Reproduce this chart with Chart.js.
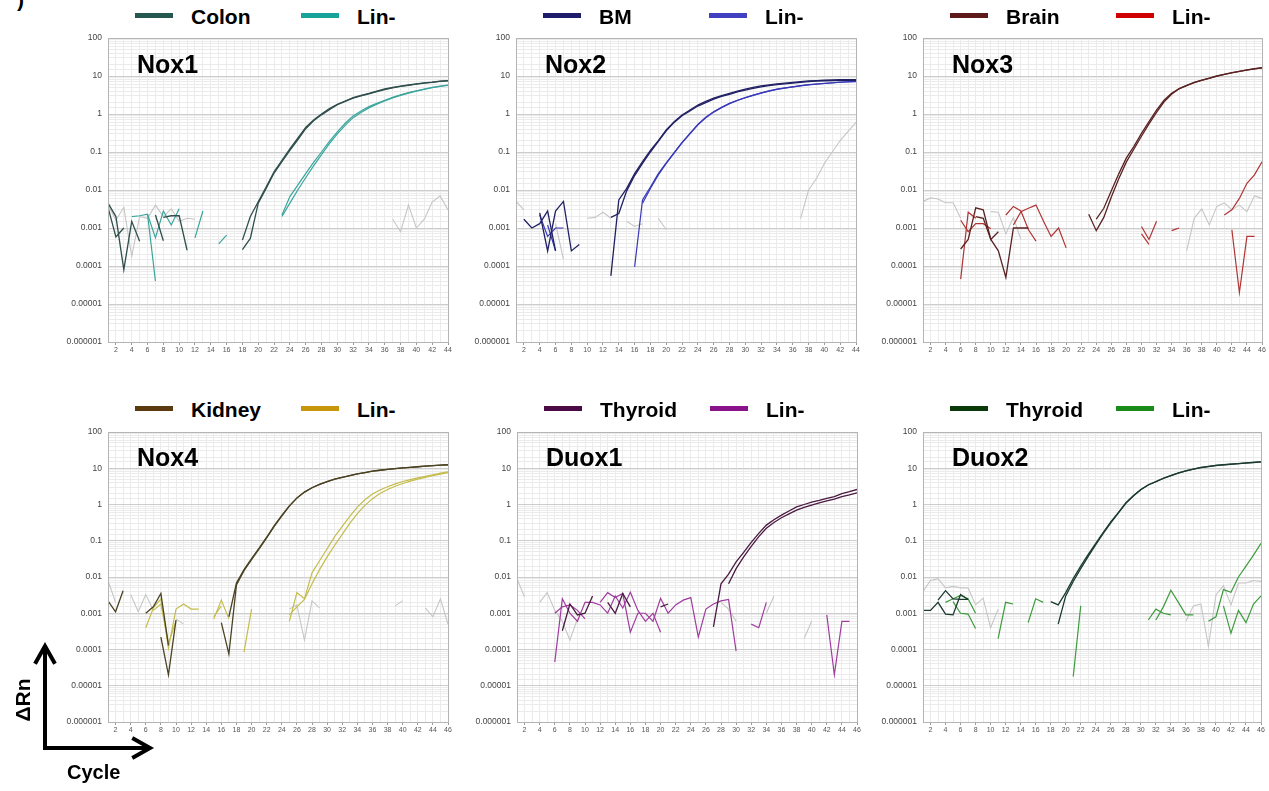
<!DOCTYPE html>
<html>
<head>
<meta charset="utf-8">
<script src="https://cdn.jsdelivr.net/npm/chart.js@4.4.1/dist/chart.umd.min.js"></script>
<style>
  body { margin: 0; background: #fff; font-family: "Liberation Sans", Arial, sans-serif; }
  #page { position: relative; width: 1269px; height: 791px; overflow: hidden; }
  .box { position: absolute; }
  .title { position: absolute; font-weight: bold; font-size: 25px; line-height: 25px; color: #000; white-space: nowrap; }
  .leg { position: absolute; font-weight: bold; font-size: 21px; line-height: 21px; color: #000; white-space: nowrap; }
  .sw { position: absolute; height: 5px; width: 38px; }
</style>
</head>
<body>
<div id="page"></div>
<script>
// x axis: PCR cycle, y axis: delta Rn (log)
const maxCycles = [44, 44, 46, 46, 46, 46];
const panelTitles = ['Nox1', 'Nox2', 'Nox3', 'Nox4', 'Duox1', 'Duox2'];
const tissueNames = ['Colon', 'BM', 'Brain', 'Kidney', 'Thyroid', 'Thyroid'];
const linName = 'Lin-';
const yTickLabels = ['100', '10', '1', '0.1', '0.01', '0.001', '0.0001', '0.00001', '0.000001'];

// each series = list of segments: [startCycle, value, value, ...]
const nox1ColonA = [[1, 0.0045, 0.002, 0.00008, 0.0015, 0.00045], [7, 0.0022, 0.00046],
  [18, 0.00048, 0.002, 0.0049, 0.012, 0.03, 0.06, 0.12, 0.23, 0.44, 0.7, 1.0, 1.4, 1.8, 2.2, 2.7, 3.1, 3.5, 4.0, 4.6, 5.0, 5.4, 5.8, 6.2, 6.6, 6.9, 7.3, 7.6]];
const nox1ColonB = [[1, 0.0035, 0.00058, 0.001], [8, 0.0019, 0.0021, 0.0021, 0.00026],
  [18, 0.00027, 0.00053, 0.0045, 0.011, 0.028, 0.056, 0.11, 0.21, 0.41, 0.66, 0.95, 1.3, 1.75, 2.15, 2.6, 3.0, 3.4, 3.9, 4.4, 4.9, 5.3, 5.7, 6.1, 6.5, 6.8, 7.2, 7.5]];
const nox1LinA = [[4, 0.002, 0.0021, 0.0023, 0.00004], [12, 0.00055, 0.0028], [15, 0.00038, 0.00065],
  [23, 0.0022, 0.0067, 0.0135, 0.027, 0.053, 0.1, 0.19, 0.34, 0.57, 0.89, 1.2, 1.56, 1.9, 2.3, 2.75, 3.2, 3.65, 4.1, 4.55, 5.0, 5.4, 5.8]];
const nox1LinB = [[6, 0.0023, 0.00055, 0.0028, 0.0012, 0.0032],
  [23, 0.002, 0.0045, 0.01, 0.021, 0.043, 0.085, 0.165, 0.3, 0.5, 0.8, 1.1, 1.45, 1.8, 2.2, 2.65, 3.1, 3.55, 4.0, 4.45, 4.9, 5.3, 5.7]];
const nox1Ntc = [[1, 0.004, 0.0016, 0.0035, 0.00018, 0.002, 0.0018, 0.004, 0.002, 0.0032, 0.0015, 0.0018, 0.0017],
  [37, 0.0017, 0.0008, 0.004, 0.001, 0.0017, 0.0048, 0.007, 0.003]];

const nox2BmA = [[2, 0.0017, 0.001, 0.0013, 0.0028, 0.00025],
  [13, 0.000055, 0.0055, 0.011, 0.027, 0.056, 0.11, 0.2, 0.38, 0.63, 0.94, 1.27, 1.72, 2.15, 2.6, 3.05, 3.5, 4.0, 4.5, 5.0, 5.5, 5.85, 6.2, 6.5, 6.8, 7.1, 7.4, 7.6, 7.8, 7.9, 8.0, 8.0, 8.0]];
const nox2BmB = [[4, 0.0025, 0.00025, 0.0028, 0.005, 0.00025, 0.00037],
  [13, 0.0019, 0.0024, 0.0095, 0.024, 0.05, 0.1, 0.19, 0.36, 0.6, 0.9, 1.2, 1.62, 2.0, 2.45, 2.9, 3.3, 3.8, 4.25, 4.7, 5.2, 5.55, 5.9, 6.2, 6.5, 6.8, 7.1, 7.3, 7.5, 7.6, 7.7, 7.7, 7.7]];
const nox2LinA = [[4, 0.0022, 0.0006, 0.001, 0.001],
  [16, 0.000095, 0.0055, 0.012, 0.027, 0.052, 0.096, 0.18, 0.31, 0.53, 0.82, 1.15, 1.5, 1.9, 2.3, 2.7, 3.15, 3.6, 4.05, 4.5, 4.85, 5.2, 5.55, 5.9, 6.15, 6.4, 6.65, 6.9, 7.05, 7.2]];
const nox2LinB = [[5, 0.0012, 0.00025],
  [17, 0.0045, 0.011, 0.025, 0.05, 0.093, 0.175, 0.3, 0.52, 0.8, 1.12, 1.47, 1.87, 2.27, 2.67, 3.1, 3.55, 4.0, 4.45, 4.8, 5.15, 5.5, 5.85, 6.1, 6.35, 6.6, 6.85, 7.0, 7.15]];
const nox2Ntc = [[1, 0.005, 0.003], [6, 0.0013, 0.00015], [10, 0.0018, 0.0019, 0.0026, 0.0018], [15, 0.0015, 0.0011, 0.0013],
  [19, 0.0018, 0.0009], [37, 0.0018, 0.01, 0.02, 0.05, 0.1, 0.2, 0.35, 0.6]];

const nox3BrainA = [[6, 0.00028, 0.0005, 0.0034, 0.003, 0.0005, 0.0008],
  [24, 0.0017, 0.0033, 0.0095, 0.027, 0.07, 0.14, 0.31, 0.63, 1.27, 2.3, 3.5, 4.7, 5.7, 6.8, 7.8, 8.8, 10, 11.1, 12.2, 13.3, 14.4, 15.5, 16.5]];
const nox3BrainB = [[8, 0.002, 0.0018, 0.0005, 0.00025, 0.00005, 0.001, 0.001, 0.001],
  [23, 0.0023, 0.00085, 0.0019, 0.0065, 0.02, 0.055, 0.12, 0.26, 0.55, 1.1, 2.1, 3.3, 4.6, 5.6, 6.7, 7.7, 8.7, 9.9, 11, 12.1, 13.2, 14.3, 15.4, 16.4]];
const nox3LinA = [[6, 0.0016, 0.0008, 0.0013, 0.0013, 0.00095], [12, 0.0022, 0.0037, 0.0028, 0.0009, 0.00045],
  [30, 0.0011, 0.0005, 0.0015], [41, 0.0022, 0.003, 0.006, 0.015, 0.025, 0.055]];
const nox3LinB = [[6, 0.000045, 0.0026, 0.0018], [13, 0.0012, 0.0027, 0.0033, 0.004, 0.0015, 0.0006, 0.001, 0.0003],
  [30, 0.0007, 0.00037], [34, 0.00085, 0.001], [42, 0.0009, 0.00002, 0.0006, 0.0006]];
const nox3Ntc = [[1, 0.005, 0.0062, 0.0058, 0.0046, 0.0046, 0.0018], [10, 0.0027, 0.0026, 0.0007, 0.0019, 0.0005],
  [36, 0.00025, 0.0018, 0.0032, 0.0012, 0.0037, 0.0046, 0.003, 0.004, 0.0027, 0.007, 0.006]];

const nox4KidneyA = [[1, 0.0022, 0.0011, 0.0042], [6, 0.001, 0.0015, 0.0035, 0.00013],
  [16, 0.00055, 0.000075, 0.006, 0.015, 0.03, 0.06, 0.12, 0.25, 0.48, 0.9, 1.5, 2.2, 2.9, 3.6, 4.3, 5.0, 5.6, 6.3, 7.0, 7.6, 8.3, 8.8, 9.3, 9.8, 10.3, 10.6, 11.0, 11.4, 11.8, 12.2, 12.5]];
const nox4KidneyB = [[8, 0.00022, 0.00002, 0.00065],
  [17, 0.0008, 0.0068, 0.016, 0.032, 0.063, 0.125, 0.26, 0.5, 0.92, 1.52, 2.2, 2.9, 3.6, 4.3, 5.0, 5.6, 6.3, 7.0, 7.6, 8.3, 8.8, 9.3, 9.8, 10.3, 10.6, 11.0, 11.4, 11.8, 12.2, 12.5]];
const nox4LinA = [[6, 0.0004, 0.0014, 0.0025, 0.00011, 0.0013, 0.0018, 0.0013, 0.0013], [15, 0.0007, 0.0023, 0.0007],
  [25, 0.0006, 0.0037, 0.0025, 0.013, 0.028, 0.06, 0.13, 0.25, 0.47, 0.85, 1.35, 1.95, 2.5, 3.1, 3.7, 4.3, 4.85, 5.4, 6.0, 6.6, 7.3, 8.0]];
const nox4LinB = [[7, 0.0012, 0.0018, 0.00015, 0.0006], [15, 0.0008, 0.0016], [19, 0.000085, 0.0013],
  [25, 0.0009, 0.0015, 0.0024, 0.0065, 0.016, 0.036, 0.075, 0.15, 0.3, 0.56, 0.95, 1.45, 2.0, 2.6, 3.2, 3.8, 4.4, 5.0, 5.6, 6.2, 6.9, 7.6]];
const nox4Ntc = [[1, 0.008, 0.002], [4, 0.0033, 0.0011, 0.0033, 0.0012], [10, 0.0007, 0.0005],
  [25, 0.0013, 0.0017, 0.00018, 0.0022, 0.0014], [39, 0.0016, 0.0022], [43, 0.0014, 0.0008, 0.0025, 0.0005]];

const duox1ThyroidA = [[7, 0.00033, 0.0018, 0.0009, 0.001, 0.003],
  [27, 0.00042, 0.0065, 0.012, 0.026, 0.048, 0.09, 0.16, 0.27, 0.38, 0.51, 0.66, 0.86, 1.0, 1.16, 1.3, 1.48, 1.65, 2.0, 2.25, 2.6]];
const duox1ThyroidB = [[13, 0.002, 0.001, 0.0035, 0.0015], [20, 0.0015, 0.0018],
  [29, 0.0065, 0.017, 0.036, 0.07, 0.13, 0.22, 0.32, 0.43, 0.55, 0.7, 0.83, 0.96, 1.1, 1.25, 1.4, 1.65, 1.85, 2.1]];
const duox1LinA = [[6, 0.000045, 0.0025, 0.001, 0.0006, 0.002, 0.002, 0.0017, 0.001, 0.003, 0.0014, 0.0038, 0.0012, 0.0006, 0.001, 0.0003],
  [32, 0.0005, 0.0004, 0.002], [42, 0.0009, 0.00002, 0.0006, 0.0006]];
const duox1LinB = [[6, 0.001, 0.0015, 0.0017, 0.0012, 0.0007],
  [12, 0.002, 0.0037, 0.0027, 0.0035, 0.0003, 0.001, 0.001, 0.0006, 0.0026, 0.001, 0.0017, 0.0023, 0.0027, 0.00022, 0.0013, 0.0018, 0.0022, 0.0024, 0.00009]];
const duox1Ntc = [[1, 0.009, 0.0028], [4, 0.002, 0.0037, 0.0012, 0.0006, 0.00018, 0.0007], [28, 0.002, 0.0013, 0.0006],
  [34, 0.001, 0.003], [39, 0.0002, 0.0006]];

const duox2ThyroidA = [[1, 0.0012, 0.0012, 0.002, 0.00095, 0.0009, 0.0033, 0.0024],
  [18, 0.0021, 0.0017, 0.0037, 0.009, 0.02, 0.042, 0.085, 0.17, 0.33, 0.6, 1.1, 1.75, 2.6, 3.5, 4.3, 5.3, 6.3, 7.4, 8.5, 9.5, 10.5, 11.2, 12, 12.5, 13, 13.5, 14, 14.5, 15]];
const duox2ThyroidB = [[3, 0.0023, 0.0042, 0.0025, 0.0024, 0.0024],
  [19, 0.0005, 0.003, 0.0075, 0.017, 0.037, 0.078, 0.16, 0.31, 0.58, 1.08, 1.72, 2.55, 3.45, 4.25, 5.25, 6.25, 7.35, 8.45, 9.45, 10.4, 11.1, 11.9, 12.4, 12.9, 13.4, 13.9, 14.4, 14.9]];
const duox2LinA = [[4, 0.002, 0.0025, 0.0031, 0.0025, 0.001], [11, 0.0002, 0.002, 0.0018], [15, 0.00055, 0.0025, 0.002],
  [21, 0.000018, 0.0016], [31, 0.00065, 0.0013, 0.001, 0.0009], [39, 0.0006, 0.0008, 0.0045, 0.0038, 0.01, 0.02, 0.04, 0.085]];
const duox2LinB = [[5, 0.0021, 0.001, 0.00095, 0.00038], [32, 0.00065, 0.0015, 0.0043, 0.002, 0.0009, 0.0009],
  [41, 0.0016, 0.00028, 0.0012, 0.00055, 0.0018, 0.003]];
const duox2Ntc = [[1, 0.004, 0.008, 0.009, 0.005, 0.0055, 0.005, 0.005, 0.0017, 0.0026, 0.0004, 0.0013],
  [36, 0.0006, 0.0016, 0.0018, 0.00012, 0.0032, 0.0058, 0.0017, 0.0068, 0.0068, 0.008, 0.0075]];

// panel data, built from the arrays above
const panelData = [
  [nox1ColonA, nox1ColonB, nox1LinA, nox1LinB, nox1Ntc],
  [nox2BmA, nox2BmB, nox2LinA, nox2LinB, nox2Ntc],
  [nox3BrainA, nox3BrainB, nox3LinA, nox3LinB, nox3Ntc],
  [nox4KidneyA, nox4KidneyB, nox4LinA, nox4LinB, nox4Ntc],
  [duox1ThyroidA, duox1ThyroidB, duox1LinA, duox1LinB, duox1Ntc],
  [duox2ThyroidA, duox2ThyroidB, duox2LinA, duox2LinB, duox2Ntc]
];

// layout + styles
const plotBoxes = [ // left, top, width, height of plot area
  [108, 38, 340, 304], [516, 38, 340, 304], [923, 38, 339, 304],
  [108, 432, 340, 290], [517, 432, 340, 290], [923, 432, 338, 290]
];
const legendTops = [6, 6, 6, 399, 399, 399];
const titleTops = [52, 52, 52, 445, 445, 445];
const swatchColors = [
  ['#245850', '#15a39a'], ['#1d1d6b', '#4040c0'], ['#5e1a1a', '#d00000'],
  ['#5c3a10', '#c8960a'], ['#4a0a45', '#8a128a'], ['#0a3a0a', '#1a8a1a']
];
const lineColors = [
  ['#2f4f4c', '#3aa59c'], ['#202064', '#3838b8'], ['#5a2222', '#b03434'],
  ['#4a4222', '#c4bc4c'], ['#4a1a42', '#a03ca0'], ['#1a3a30', '#3c9c3c']
];
const ntcColor = '#c6c6c6';
const Y_AXIS_W = 64;

const page = document.getElementById('page');

function toPoints(segments) {
  const pts = [];
  segments.forEach(seg => {
    const start = seg[0];
    seg.slice(1).forEach((v, i) => pts.push({ x: start + i, y: v }));
    pts.push({ x: start + seg.length - 1.5, y: null }); // break line
  });
  return pts;
}

function isDecade(v) {
  const l = Math.log10(v);
  return Math.abs(l - Math.round(l)) < 1e-6;
}

const framePlugin = {
  id: 'frame',
  afterDraw(chart) {
    const { ctx, chartArea: a } = chart;
    ctx.save();
    ctx.strokeStyle = '#b4b4b4';
    ctx.lineWidth = 1;
    ctx.strokeRect(a.left + 0.5, a.top + 0.5, a.right - a.left, a.bottom - a.top);
    ctx.restore();
  }
};

function addText(cls, text, left, top) {
  const d = document.createElement('div');
  d.className = cls;
  d.textContent = text;
  d.style.left = left + 'px';
  d.style.top = top + 'px';
  page.appendChild(d);
}

function addSwatch(color, left, top) {
  const s = document.createElement('div');
  s.className = 'sw';
  s.style.background = color;
  s.style.left = left + 'px';
  s.style.top = top + 'px';
  page.appendChild(s);
}

panelData.forEach((series, i) => {
  const [pl, pt, pw, ph] = plotBoxes[i];
  const box = document.createElement('div');
  box.className = 'box';
  box.style.left = (pl - Y_AXIS_W) + 'px';
  box.style.top = (pt - 6) + 'px';
  const canvas = document.createElement('canvas');
  canvas.width = pw + Y_AXIS_W + 8;
  canvas.height = ph + 26;
  box.appendChild(canvas);
  page.appendChild(box);

  const [tisCol, linCol] = lineColors[i];
  const datasets = [
    { label: tissueNames[i], data: toPoints(series[0]), borderColor: tisCol, borderWidth: 1.3 },
    { label: tissueNames[i], data: toPoints(series[1]), borderColor: tisCol, borderWidth: 1.3 },
    { label: linName, data: toPoints(series[2]), borderColor: linCol, borderWidth: 1.2 },
    { label: linName, data: toPoints(series[3]), borderColor: linCol, borderWidth: 1.2 },
    { label: 'NTC', data: toPoints(series[4]), borderColor: ntcColor, borderWidth: 1.1 }
  ];

  new Chart(canvas, {
    type: 'line',
    data: { datasets },
    options: {
      responsive: false,
      animation: false,
      spanGaps: false,
      layout: { padding: { top: 6, right: 8, left: 0, bottom: 0 } },
      elements: { point: { radius: 0 }, line: { tension: 0 } },
      plugins: { legend: { display: false }, tooltip: { enabled: false } },
      scales: {
        x: {
          type: 'linear',
          min: 1,
          max: maxCycles[i],
          afterFit: s => { s.height = 20; s.paddingLeft = 0; s.paddingRight = 0; },
          ticks: {
            stepSize: 1,
            autoSkip: false,
            maxRotation: 0,
            padding: 1,
            color: '#555',
            font: { size: 7, family: 'Liberation Sans' },
            callback: v => (v % 2 === 0 ? String(v) : '')
          },
          grid: {
            color: '#ebebeb',
            tickLength: 3,
            tickColor: ctx => (ctx.tick && ctx.tick.value % 2 === 0 ? '#999' : 'rgba(0,0,0,0)')
          },
          border: { color: '#999' }
        },
        y: {
          type: 'logarithmic',
          min: 0.000001,
          max: 100,
          afterFit: s => { s.width = Y_AXIS_W; s.paddingTop = 0; s.paddingBottom = 0; },
          ticks: {
            autoSkip: false,
            padding: 6,
            color: '#444',
            font: { size: 8.5, family: 'Liberation Sans' },
            callback: v => (isDecade(v) ? yTickLabels[2 - Math.round(Math.log10(v))] : '')
          },
          grid: {
            drawTicks: false,
            color: ctx => (ctx.tick && isDecade(ctx.tick.value) ? '#cdcdcd' : '#ebebeb')
          },
          border: { color: '#999' }
        }
      }
    },
    plugins: [framePlugin]
  });

  // title inside the plot
  addText('title', panelTitles[i], pl + 29, titleTops[i]);
  // legend
  const lt = legendTops[i];
  addSwatch(swatchColors[i][0], pl + 27, lt + 7);
  addText('leg', tissueNames[i], pl + 83, lt);
  addSwatch(swatchColors[i][1], pl + 193, lt + 7);
  addText('leg', linName, pl + 249, lt);
});

// axis key at bottom left
addText('leg', ')', 17, -11);
const svgNS = 'http://www.w3.org/2000/svg';
const svg = document.createElementNS(svgNS, 'svg');
svg.setAttribute('width', '170');
svg.setAttribute('height', '160');
svg.style.position = 'absolute';
svg.style.left = '0px';
svg.style.top = '631px';
svg.innerHTML =
  '<g stroke="#000" stroke-width="4" fill="none" stroke-linecap="square">' +
  '<path d="M45 117 L45 17"/><path d="M36 31 L45 15 L54 31"/>' +
  '<path d="M45 117 L148 117"/><path d="M134 108 L150 117 L134 126"/></g>' +
  '<text x="30" y="69" transform="rotate(-90 30 69)" text-anchor="middle" font-family="Liberation Sans, Arial" font-weight="bold" font-size="21">\u0394Rn</text>' +
  '<text x="67" y="148" font-family="Liberation Sans, Arial" font-weight="bold" font-size="20">Cycle</text>';
page.appendChild(svg);
</script>
</body>
</html>
